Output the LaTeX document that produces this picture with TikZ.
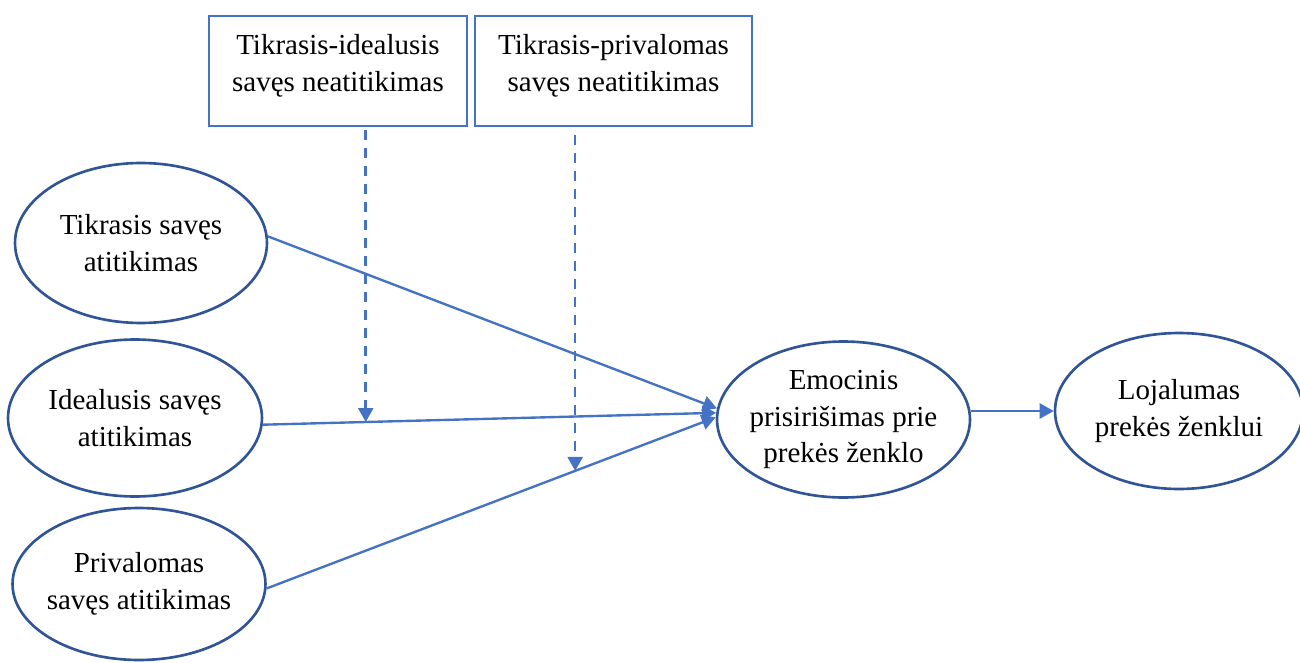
\documentclass[tikz,border=0pt]{standalone}
\usepackage{fontspec}
\setmainfont{Liberation Serif}
\usetikzlibrary{arrows.meta,shapes.geometric}
\definecolor{ringblue}{HTML}{2F5597}
\definecolor{lineblue}{HTML}{4472C4}
\begin{document}
\begin{tikzpicture}[x=0.02cm,y=-0.02cm,
  every node/.style={font=\fontsize{16.5}{20.8}\selectfont, align=center, text=black},
  construct/.style={ellipse, draw=ringblue, line width=1.5pt, inner xsep=-0.3cm, inner ysep=0pt},
  moderator/.style={rectangle, draw=lineblue, line width=1.4pt, minimum height=2.2cm, inner sep=0pt},
  effect/.style={draw=lineblue, line width=1.35pt, -{Triangle[length=0.28cm,width=0.3cm]}},
  modeffect/.style={effect, line width=1.5pt, dash pattern=on 0.2cm off 0.16cm}]
\useasboundingbox (0,0) rectangle (1300,662);

% moderators
\node[moderator, minimum width=5.16cm] (b1) at (338,71) {};
\node (b1t) at (338,66) {Tikrasis-idealusis\\savęs neatitikimas};
\node[moderator, minimum width=5.54cm] (b2) at (613.5,71) {};
\node (b2t) at (613.5,66) {Tikrasis-privalomas\\savęs neatitikimas};

% constructs
\node[construct, minimum width=5.04cm, minimum height=3.2cm] (e1) at (141,243) {Tikrasis savęs\\atitikimas};
\node[construct, minimum width=5.08cm, minimum height=3.14cm] (e2) at (135,418) {Idealusis savęs\\atitikimas};
\node[construct, minimum width=5.06cm, minimum height=3.04cm] (e3) at (139,584) {Privalomas\\savęs atitikimas};
\node[construct, minimum width=5.06cm, minimum height=3.12cm] (e4) at (843.5,419.5) {Emocinis\\prisirišimas prie\\prekės ženklo};
\node[construct, minimum width=4.96cm, minimum height=3.12cm] (e5) at (1179,411) {Lojalumas\\prekės ženklui};

% direct effects
\draw[effect] (e1.3) -- (e4.175);
\draw[effect] (e2.-3) -- coordinate[pos=0.227] (m1) (e4.177);
\draw[effect] (e3.-2) -- coordinate[pos=0.687] (m2) (e4.179);
\draw[effect] (e4.east |- e5.west) -- (e5.west);

% moderating effects
\draw[modeffect, shorten <=0.06cm] (b1.south -| m1) -- (m1);
\draw[modeffect, shorten <=0.16cm] (b2.south -| m2) -- (m2);
\end{tikzpicture}
\end{document}
